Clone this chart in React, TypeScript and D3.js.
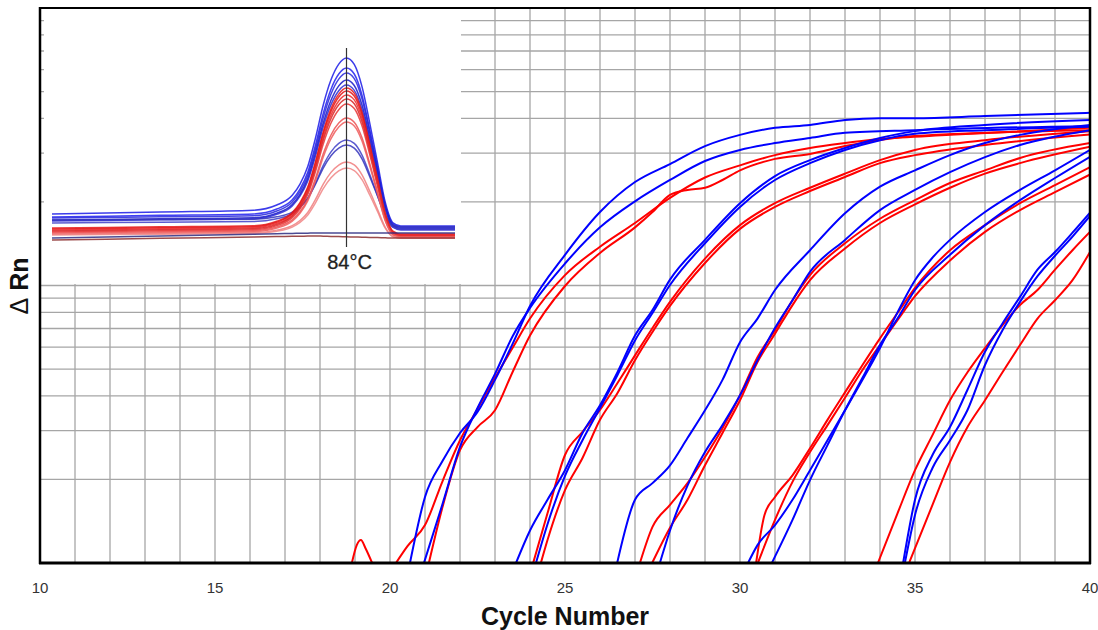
import React from 'react';
import * as d3 from 'd3';

type Pt = [number, number];

// ---------- axis / grid values ----------
const cycleTicks = [10, 15, 20, 25, 30, 35, 40];
const gridCycles = [11, 12, 13, 14, 15, 16, 17, 18, 19, 20, 21, 22, 23, 24, 25, 26, 27, 28, 29, 30, 31, 32, 33, 34, 35, 36, 37, 38, 39];
const gridRn = [2, 3, 4, 5, 6, 7, 8, 9, 10, 20, 30, 40, 50, 60, 70, 80, 90];

// ---------- amplification curves [cycle, ΔRn] ----------
const redBlip: Pt[] = [[18.91, 1], [19.05, 1.16], [19.17, 1.21], [19.3, 1.13], [19.49, 1]];

const blueA1: Pt[] = [[20.57, 1], [21, 1.73], [21.5, 2.33], [22, 2.94], [22.5, 3.5], [23, 4.57], [23.5, 6.15], [24, 8.44], [25, 12.9], [26, 18.4], [27, 23.6], [28, 27.4], [29, 31.8], [30, 34.9], [31, 37], [32, 37.9], [33, 39.5], [34, 40.1], [35, 40.1], [37, 40.8], [40, 41.9]];
const blueA2: Pt[] = [[20.97, 1], [21.5, 1.63], [22, 2.62], [22.5, 3.62], [23, 4.8], [23.5, 6.55], [24, 8.3], [25, 12], [26, 16.2], [27, 20.1], [28, 24], [29, 28.1], [30, 30.8], [31, 32.6], [32, 34], [33, 35.5], [35, 36.3], [40, 37.6]];
const redA1: Pt[] = [[20.17, 1], [20.5, 1.15], [21, 1.37], [21.5, 1.97], [22, 2.77], [22.5, 3.59], [23, 4.65], [23.5, 5.95], [24, 7.6], [25, 10.9], [26, 13.8], [27, 16.8], [28, 20.7], [29, 24.5], [30, 27.1], [31, 29.5], [32, 31.3], [33, 32.6], [34, 33.7], [36, 34.9], [40, 37]];
const redA2: Pt[] = [[21.11, 1], [21.5, 1.59], [22, 2.55], [22.5, 3.09], [23, 3.55], [23.5, 4.87], [24, 6.6], [25, 9.96], [26, 13.1], [27, 16.2], [27.5, 18.4], [28, 21.2], [28.5, 22.1], [29, 22.5], [29.5, 24], [30, 26], [31, 28.6], [32, 29.8], [33, 31.8], [35, 34.6], [40, 36.3]];

const blueB1: Pt[] = [[23.6, 1], [24, 1.31], [24.5, 1.69], [25, 2.16], [25.5, 2.94], [26, 3.7], [26.5, 4.87], [27, 6.6], [27.5, 8.16], [28, 10.5], [29, 14.6], [30, 19.8], [31, 24.8], [32, 28.3], [33, 31.3], [34, 34], [35, 36], [37, 37.9], [40, 39.5]];
const blueB2: Pt[] = [[24.17, 1], [24.5, 1.38], [25, 2.06], [25.5, 2.77], [26, 3.62], [26.5, 4.76], [27, 6.34], [27.5, 7.96], [28, 10.04], [29, 14.2], [30, 19.2], [31, 24], [32, 27.6], [33, 30.8], [34, 33.4], [35, 35.2], [37, 36.3], [40, 37.3]];
const redB1: Pt[] = [[24.09, 1], [24.5, 1.51], [25, 2.45], [25.5, 2.97], [26, 3.56], [26.5, 4.45], [27, 5.6], [27.5, 7.03], [28, 8.73], [29, 12.5], [30, 16.5], [31, 19.8], [32, 22.5], [33, 25.3], [34, 28.3], [35, 30.8], [37, 33.4], [40, 36]];
const redB2: Pt[] = [[24.31, 1], [24.5, 1.21], [25, 1.83], [25.5, 2.39], [26, 3.28], [26.5, 4.1], [27, 5.38], [27.5, 6.8], [28, 8.44], [29, 12.05], [30, 16], [31, 19.2], [32, 21.9], [33, 24.6], [34, 27.6], [35, 29.5], [37, 32.1], [40, 35]];

const blueC1: Pt[] = [[26.49, 1], [27, 1.69], [27.5, 1.94], [28, 2.25], [28.5, 2.82], [29, 3.55], [29.5, 4.57], [30, 6.25], [30.5, 7.6], [31, 9.63], [32, 13.4], [33, 18.2], [34, 22.7], [35, 26], [36, 29.5], [37, 32.6], [38, 34.9], [40, 37.9]];
const redC1: Pt[] = [[27.14, 1], [27.5, 1.35], [28, 1.62], [28.5, 1.94], [29, 2.41], [29.5, 3.06], [30, 4.02], [30.5, 5.52], [31, 6.9], [31.5, 8.85], [32, 10.9], [33, 14.2], [34, 17.4], [35, 20.3], [36, 23.4], [37, 26], [38, 28.8], [40, 32.6]];
const redC2: Pt[] = [[27.49, 1], [28, 1.34], [28.5, 1.69], [29, 2.25], [29.5, 2.94], [30, 3.86], [30.5, 5.3], [31, 6.7], [31.5, 8.5], [32, 10.45], [33, 13.6], [34, 16.8], [35, 19.6], [36, 22.5], [37, 25.3], [38, 27.6], [40, 31.6]];
const blueC2: Pt[] = [[27.71, 1], [28, 1.31], [28.5, 1.9], [29, 2.51], [29.5, 3.14], [30, 4.02], [30.5, 5.38], [31, 7.03], [31.5, 8.85], [32, 11.2], [33, 14.6], [34, 18.7], [35, 22.1], [36, 25.6], [37, 29], [38, 32.1], [40, 36.3]];

const blueD1: Pt[] = [[30.23, 1], [30.5, 1.16], [31, 1.37], [31.5, 1.69], [32, 2.16], [32.5, 2.77], [33, 3.55], [33.5, 4.57], [34, 5.95], [34.5, 8], [35, 10.45], [35.5, 12.6], [36, 14.6], [37, 18.4], [38, 22.1], [39, 26], [40, 30.8]];
const redD1: Pt[] = [[30.46, 1], [30.7, 1.49], [31, 1.73], [31.5, 2.07], [32, 2.59], [32.5, 3.28], [33, 4.12], [33.5, 5.17], [34, 6.45], [34.5, 7.96], [35, 9.8], [36, 13.4], [37, 16.5], [38, 19.8], [39, 23], [40, 26.7]];
const redD2: Pt[] = [[30.51, 1], [31, 1.43], [31.5, 1.96], [32, 2.51], [32.5, 3.14], [33, 3.94], [33.5, 4.96], [34, 6.1], [34.5, 7.5], [35, 9.15], [36, 12.3], [37, 15.6], [38, 18.7], [39, 21.7], [40, 25.1]];
const blueD2: Pt[] = [[30.91, 1], [31.5, 1.43], [32, 1.99], [32.5, 2.66], [33, 3.55], [33.5, 4.65], [34, 6.1], [34.5, 7.6], [35, 9.63], [36, 12.9], [37, 16.5], [38, 20.3], [39, 24.4], [40, 29.1]];

const redE1: Pt[] = [[33.94, 1], [34.5, 1.51], [35, 2.16], [35.5, 2.89], [36, 3.86], [36.5, 4.87], [37, 5.95], [37.5, 7.2], [38, 8.5], [38.5, 9.63], [39, 11.4], [39.5, 13.4], [40, 15.6]];
const blueE1: Pt[] = [[34.66, 1], [35, 1.69], [35.5, 2.45], [36, 3.09], [36.5, 4.21], [37, 5.77], [37.5, 7.3], [38, 9.1], [38.5, 11.4], [39, 13.2], [39.5, 15.5], [40, 18.3]];
const blueE2: Pt[] = [[34.71, 1], [35, 1.49], [35.5, 2.2], [36, 2.77], [36.5, 3.56], [37, 5.17], [37.5, 6.9], [38, 8.73], [38.5, 10.8], [39, 12.8], [39.5, 15], [40, 17.8]];
const redE2: Pt[] = [[34.83, 1], [35.5, 1.62], [36, 2.31], [36.5, 3.09], [37, 3.86], [37.5, 4.87], [38, 6.1], [38.5, 7.6], [39, 8.85], [39.5, 10.45], [40, 13.2]];

const BLUE = '#0000ff';
const RED = '#ff0000';
const ampSeries: { color: string; pts: Pt[] }[] = [
  { color: RED, pts: redBlip },
  { color: RED, pts: redA1 }, { color: RED, pts: redA2 }, { color: BLUE, pts: blueA1 }, { color: BLUE, pts: blueA2 },
  { color: RED, pts: redB1 }, { color: RED, pts: redB2 }, { color: BLUE, pts: blueB1 }, { color: BLUE, pts: blueB2 },
  { color: RED, pts: redC1 }, { color: RED, pts: redC2 }, { color: BLUE, pts: blueC1 }, { color: BLUE, pts: blueC2 },
  { color: RED, pts: redD1 }, { color: RED, pts: redD2 }, { color: BLUE, pts: blueD1 }, { color: BLUE, pts: blueD2 },
  { color: RED, pts: redE1 }, { color: RED, pts: redE2 }, { color: BLUE, pts: blueE1 }, { color: BLUE, pts: blueE2 },
];

// ---------- melt curve inset (temperature °C, -dF/dT) ----------
const meltTemps = [65, 72, 78, 79.5, 80.5, 81, 81.5, 82, 82.5, 83, 83.5, 84, 84.5, 85, 85.5, 86, 86.5, 87, 87.5, 91];
const meltShape = [0, 0, 0, 0.03, 0.09, 0.16, 0.27, 0.45, 0.67, 0.84, 0.95, 1, 0.97, 0.84, 0.62, 0.38, 0.14, 0.02, 0, 0];
const meltPeak = [93.5, 88.5, 86, 82.5, 80, 52.5, 50, 78.5, 77, 75, 73, 70.5, 63.5, 61.5, 41.5, 38.5, 0, 0];
const meltBaseL = [15.5, 14, 13.5, 12.5, 12, 11, 12.5, 8.5, 8, 7.5, 7, 6.5, 6, 5.5, 5.5, 5, 3.5, 2.5];
const meltBaseM = [18, 16, 15, 14, 13.5, 12, 13, 10, 9.5, 9, 8.5, 8, 7.5, 7, 6.5, 6, 6, 4.5];
const meltBaseR = [9.5, 8.5, 9, 8, 7.5, 8, 9, 5.5, 5, 5, 4.5, 4.5, 4, 4, 3.5, 3.5, 6, 3.5];
const meltColor = ['#1a1ae6', '#1e1ef0', '#2626dc', '#1616c8', '#2c2cd4', '#3e3ec8', '#3434bc', '#e81818', '#e01414', '#f02828', '#d82424', '#e83232', '#ec5050', '#ee5a5a', '#f07c7c', '#f08484', '#2c2c80', '#8a2a2a'];
const meltLabel = '84°C';

const FONT = '"Liberation Sans", Arial, Helvetica, sans-serif';

export default function App() {
  const x = d3.scaleLinear().domain([10, 40]).range([40, 1090]);
  const y = d3.scaleLog().domain([1, 100]).range([563, 8]);
  const line = d3.line<Pt>().x(d => x(d[0])).y(d => y(d[1])).curve(d3.curveMonotoneX);

  const tx = d3.scaleLinear().domain([65, 91]).range([52, 455]);
  const my = d3.scaleLinear().domain([0, 100]).range([245, 45]);
  const mline = d3.line<Pt>().x(d => tx(d[0])).y(d => my(d[1])).curve(d3.curveMonotoneX);

  const baseAt = (i: number, t: number) => {
    const bs = d3.scaleLinear().domain([65, 82, 87, 91]).range([meltBaseL[i], meltBaseM[i], meltBaseR[i], meltBaseR[i]]);
    return bs(t);
  };
  const meltPaths = meltPeak.map((pk, i) => {
    const h = Math.max(0, pk - baseAt(i, 84));
    const pts: Pt[] = meltTemps.map((t, j) => [t, baseAt(i, t) + h * meltShape[j]]);
    return { d: mline(pts) || '', color: meltColor[i] };
  });

  return (
    <div>
      <style>{`body{margin:0;}`}</style>
      <svg width={1098} height={630} style={{ display: 'block' }} fontFamily={FONT}>
        <defs>
          <clipPath id="plotClip">
            <rect x={40} y={8} width={1050} height={555} />
          </clipPath>
        </defs>
        <rect x={0} y={0} width={1098} height={630} fill="#ffffff" />

        {/* grid */}
        <g stroke="#a6a6a6" strokeWidth={1.3}>
          {gridCycles.map(c => (
            <line key={'v' + c} x1={x(c)} x2={x(c)} y1={8} y2={563} />
          ))}
          {gridRn.map(v => (
            <line key={'h' + v} x1={40} x2={1090} y1={y(v)} y2={y(v)} />
          ))}
        </g>

        {/* inset melt curve */}
        <rect x={44} y={9} width={417} height={275} fill="#ffffff" />
        <g fill="none" strokeWidth={1.5} strokeOpacity={0.85}>
          {meltPaths.map((m, i) => (
            <path key={'m' + i} d={m.d} stroke={m.color} />
          ))}
        </g>
        <line x1={tx(84)} x2={tx(84)} y1={48} y2={247} stroke="#333" strokeWidth={1.2} />
        <text x={tx(84) + 3} y={269} textAnchor="middle" fontSize={20} fill="#222" stroke="#222" strokeWidth={0.3}>{meltLabel}</text>

        {/* amplification curves */}
        <g clipPath="url(#plotClip)" fill="none" strokeWidth={2} strokeLinejoin="round">
          {ampSeries.map((s, i) => (
            <path key={'a' + i} d={line(s.pts) || ''} stroke={s.color} />
          ))}
        </g>

        {/* frame */}
        <line x1={40} x2={1091} y1={8} y2={8} stroke="#000" strokeWidth={2} />
        <line x1={1090} x2={1090} y1={7} y2={564} stroke="#000" strokeWidth={2.5} />
        <line x1={40} x2={40} y1={7} y2={564} stroke="#000" strokeWidth={2.5} />
        <line x1={39} x2={1091} y1={563} y2={563} stroke="#000" strokeWidth={2.8} />

        {/* tick labels */}
        {cycleTicks.map(c => (
          <text key={'t' + c} x={x(c)} y={593} textAnchor="middle" fontSize={15} fill="#333">{c}</text>
        ))}

        {/* axis titles */}
        <text x={565} y={625} textAnchor="middle" fontSize={25} fontWeight="bold" fill="#111">Cycle Number</text>
        <text transform="translate(28,286) rotate(-90)" textAnchor="middle" fontSize={25} fill="#111">
          <tspan fontWeight="normal">Δ</tspan>
          <tspan fontWeight="bold"> Rn</tspan>
        </text>
      </svg>
    </div>
  );
}
